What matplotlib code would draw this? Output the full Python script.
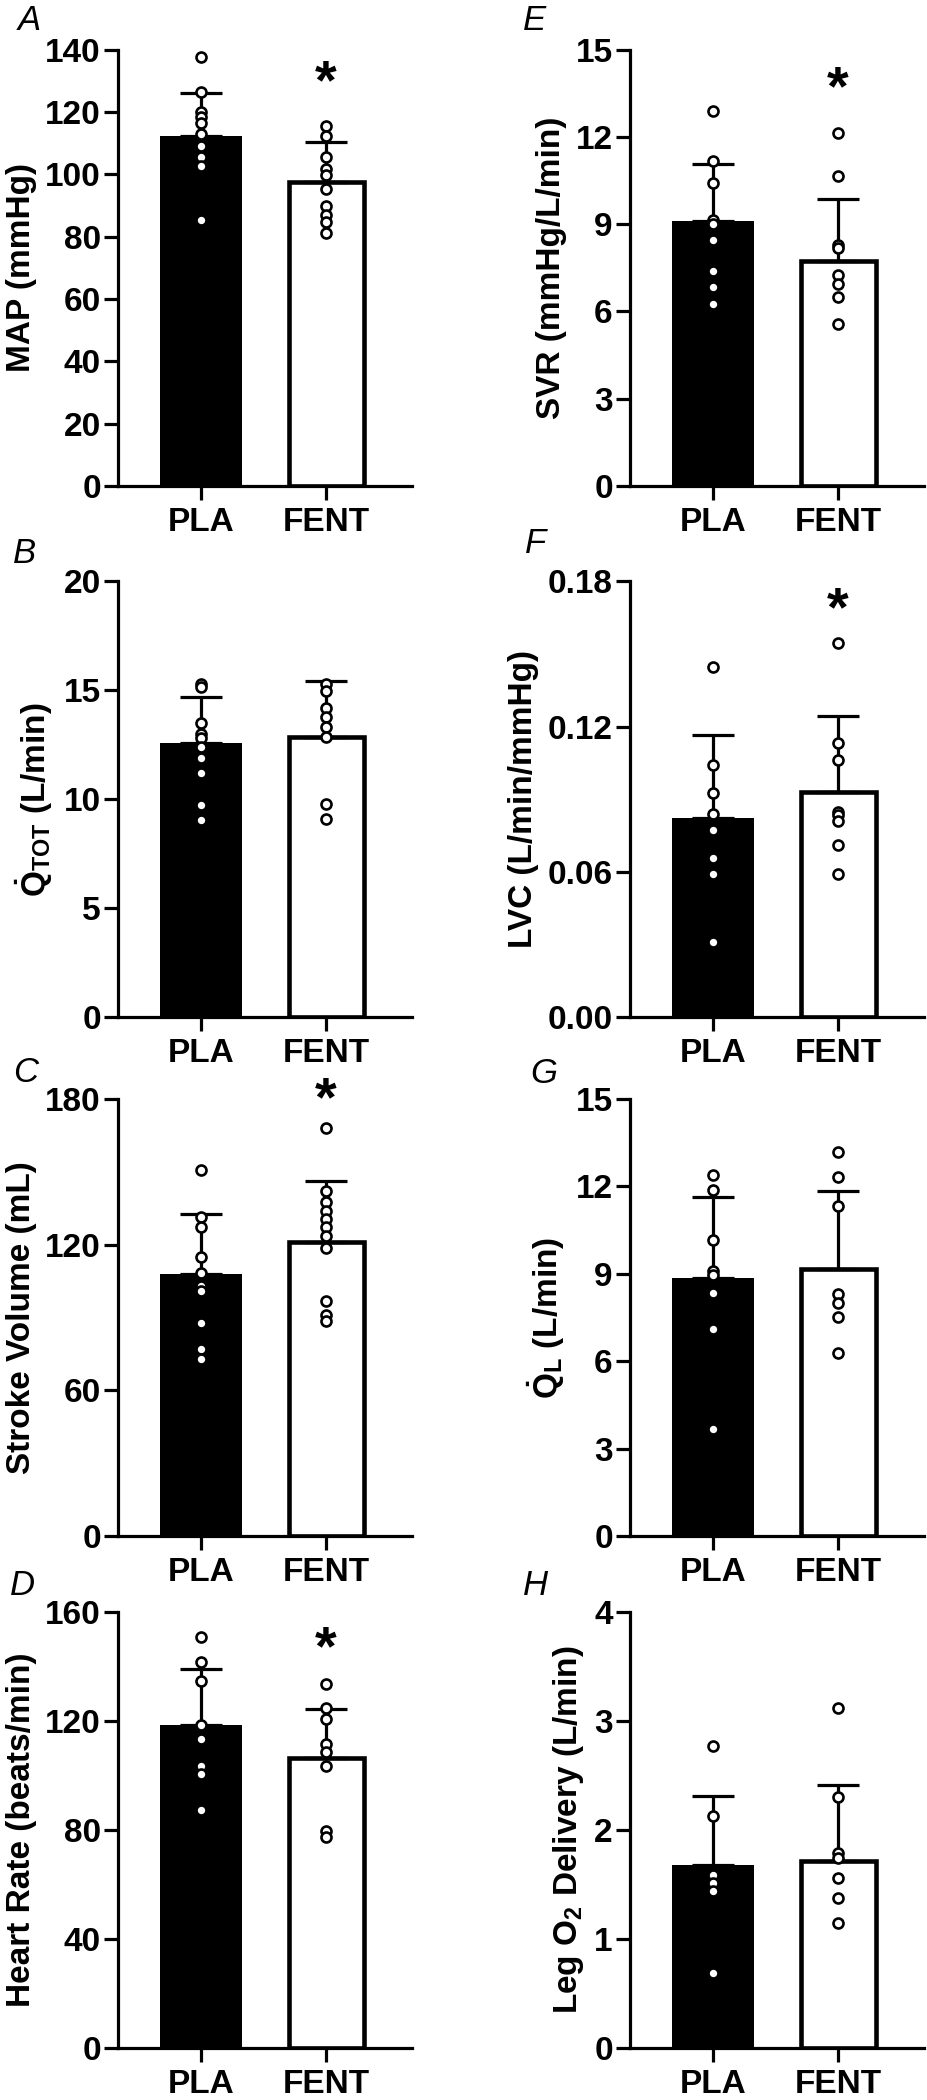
"""Eight bar panels (PLA vs FENT): mean + upper SD with individual points."""
import matplotlib
matplotlib.use("Agg")
import matplotlib.pyplot as plt
from matplotlib.ticker import FormatStrFormatter

plt.rcParams.update({
    "font.family": ["Liberation Sans", "DejaVu Sans"],
    "font.weight": "bold",
    "mathtext.fontset": "custom",
    "mathtext.rm": "Liberation Sans",
    "mathtext.bf": "Liberation Sans:bold",
    "mathtext.it": "Liberation Sans:italic",
})

GROUPS = ["PLA", "FENT"]

# A - MAP (mmHg)
map_mean = [112.3, 97.4]
map_sd = [13.9, 12.8]
map_pla = [137.5, 126.5, 120.0, 118.5, 116.5, 113.0, 109.0, 105.5, 102.5, 85.2]
map_fent = [115.4, 112.3, 105.6, 101.8, 99.7, 95.2, 89.8, 86.8, 84.7, 81.3]

# B - Q_TOT (L/min)
qtot_mean = [12.6, 12.85]
qtot_sd = [2.1, 2.6]
qtot_pla = [15.3, 15.15, 13.5, 13.0, 12.8, 12.4, 11.9, 11.2, 9.75, 9.05]
qtot_fent = [15.3, 14.95, 14.2, 13.8, 13.3, 12.85, 9.8, 9.1]

# C - Stroke volume (mL)
sv_mean = [108.1, 121.2]
sv_sd = [24.5, 25.1]
sv_pla = [150.9, 131.2, 127.4, 115.1, 108.3, 102.8, 100.9, 87.9, 77.2, 72.8]
sv_fent = [168.2, 142.2, 137.4, 134.0, 130.5, 127.1, 123.7, 118.6, 96.6, 91.1, 88.6]

# D - Heart rate (beats/min)
hr_mean = [118.6, 106.3]
hr_sd = [20.3, 18.1]
hr_pla = [150.8, 141.6, 134.7, 118.5, 113.5, 103.4, 100.6, 87.3]
hr_fent = [133.4, 124.6, 120.8, 111.4, 108.6, 103.4, 79.6, 77.4]

# E - SVR (mmHg/L/min)
svr_mean = [9.12, 7.72]
svr_sd = [1.96, 2.14]
svr_pla = [12.88, 11.17, 10.4, 9.15, 9.0, 8.44, 7.39, 6.85, 6.25]
svr_fent = [12.12, 10.67, 8.29, 8.17, 7.26, 6.95, 6.48, 5.58]

# F - LVC (L/min/mmHg)
lvc_mean = [0.0822, 0.0930]
lvc_sd = [0.0343, 0.0315]
lvc_pla = [0.1445, 0.1043, 0.0927, 0.084, 0.0772, 0.0656, 0.059, 0.0308]
lvc_fent = [0.1544, 0.1131, 0.1061, 0.0847, 0.0833, 0.0812, 0.0711, 0.0591]

# G - Q_L (L/min)
ql_mean = [8.86, 9.18]
ql_sd = [2.78, 2.65]
ql_pla = [12.4, 11.86, 10.16, 9.09, 8.95, 8.35, 7.11, 3.66]
ql_fent = [13.18, 12.31, 11.34, 8.31, 8.0, 7.52, 6.27]

# H - Leg O2 delivery (L/min)
do2_mean = [1.68, 1.72]
do2_sd = [0.63, 0.69]
do2_pla = [2.77, 2.13, 1.59, 1.51, 1.44, 0.69]
do2_fent = [3.12, 2.30, 1.79, 1.74, 1.56, 1.38, 1.15]

W, H = 927, 2100
XLIM = (-0.668, 1.684)
FS = 24

# letter, mean, sd, pla pts, fent pts, ylabel, yticks, tick fmt, star, column, row
panels = [
    ("A", map_mean, map_sd, map_pla, map_fent, "MAP (mmHg)",
     range(0, 141, 20), None, 129, 0, 0),
    ("B", qtot_mean, qtot_sd, qtot_pla, qtot_fent,
     r"$\mathbf{\dot{Q}}_{\mathrm{TOT}}$ (L/min)", range(0, 21, 5), None, None, 0, 1),
    ("C", sv_mean, sv_sd, sv_pla, sv_fent, "Stroke Volume (mL)",
     range(0, 181, 60), None, 179, 0, 2),
    ("D", hr_mean, hr_sd, hr_pla, hr_fent, "Heart Rate (beats/min)",
     range(0, 161, 40), None, 146, 0, 3),
    ("E", svr_mean, svr_sd, svr_pla, svr_fent, "SVR (mmHg/L/min)",
     range(0, 16, 3), None, 13.6, 1, 0),
    ("F", lvc_mean, lvc_sd, lvc_pla, lvc_fent, "LVC (L/min/mmHg)",
     [0, 0.06, 0.12, 0.18], "%.2f", 0.1676, 1, 1),
    ("G", ql_mean, ql_sd, ql_pla, ql_fent,
     r"$\mathbf{\dot{Q}}_{\mathrm{L}}$ (L/min)", range(0, 16, 3), None, None, 1, 2),
    ("H", do2_mean, do2_sd, do2_pla, do2_fent,
     r"Leg O$_{\mathrm{2}}$ Delivery (L/min)", range(0, 5, 1), None, None, 1, 3),
]

col_bar0 = [201, 713]          # pixel x of the PLA bar per column
rows_px = [(49.5, 486), (581.5, 1017), (1099, 1536), (1612, 2048)]
letter_px = {"A": (18, 30), "B": (13, 563), "C": (13, 1082), "D": (10, 1595),
             "E": (523, 30), "F": (525, 553), "G": (530, 1083), "H": (523, 1595)}
UNIT = 125.0  # px per category step


def main(outfile="out.png"):
    fig = plt.figure(figsize=(W / 100, H / 100), dpi=100)
    for (letter, mean, sd, pla, fent, ylabel, yticks, fmt, star, col, row) in panels:
        top, bot = rows_px[row]
        left = col_bar0[col] + XLIM[0] * UNIT
        right = col_bar0[col] + XLIM[1] * UNIT
        ax = fig.add_axes([left / W, 1 - bot / H, (right - left) / W, (bot - top) / H])

        ax.bar(0, mean[0], width=0.656, color="black", edgecolor="black", lw=0, zorder=1)
        ax.bar(1, mean[1], width=0.6, color="white", edgecolor="black", lw=3.3, zorder=1)
        for i in range(2):
            ax.errorbar(i, mean[i], yerr=[[0], [sd[i]]], fmt="none", ecolor="black",
                        elinewidth=2.3, capsize=14.8, capthick=2.3, zorder=2)
        ax.plot([0] * len(pla), pla, "o", ms=7.2, mfc="white", mec="black", mew=1.9,
                zorder=3, clip_on=False)
        ax.plot([1] * len(fent), fent, "o", ms=7.2, mfc="white", mec="black", mew=1.9,
                zorder=3, clip_on=False)
        if star is not None:
            ax.text(1, star, "*", ha="center", va="center", fontsize=40,
                    fontweight="bold", clip_on=False)

        yt = list(yticks)
        ax.set_ylim(0, yt[-1])
        ax.set_yticks(yt)
        if fmt:
            ax.yaxis.set_major_formatter(FormatStrFormatter(fmt))
        ax.set_xlim(*XLIM)
        ax.set_xticks([0, 1])
        ax.set_xticklabels(GROUPS)
        for s in ("top", "right"):
            ax.spines[s].set_visible(False)
        for s in ("left", "bottom"):
            ax.spines[s].set_linewidth(2.3)
        ax.tick_params(axis="both", direction="out", length=10, width=2.3,
                       labelsize=FS)
        ax.tick_params(axis="y", pad=2)
        ax.tick_params(axis="x", pad=5)
        ax.set_ylabel(ylabel, fontsize=FS, fontweight="bold", labelpad=6)

        lx, ly = letter_px[letter]
        fig.text(lx / W, 1 - ly / H, letter, fontsize=25, style="italic",
                 fontweight="normal", va="baseline", ha="left")

    fig.savefig(outfile, dpi=100, facecolor="white")


if __name__ == "__main__":
    main()
